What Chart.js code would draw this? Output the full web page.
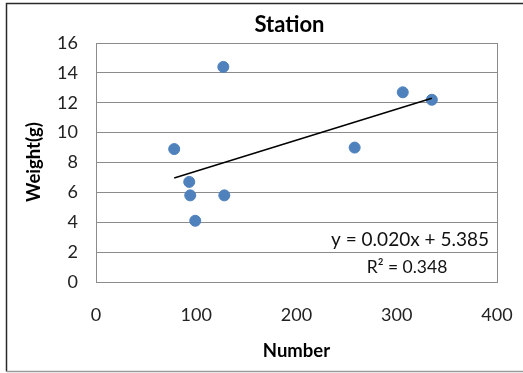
<!DOCTYPE html>
<html>
<head>
<meta charset="utf-8">
<script src="https://cdn.jsdelivr.net/npm/chart.js@4"></script>
<style>
html,body{margin:0;padding:0;background:#fff;}
#wrap{position:relative;width:523px;height:373px;}
</style>
</head>
<body>
<div id="wrap"><canvas id="c" width="523" height="373"></canvas></div>
<script>
// ---- data ----
const numbers = [78, 93, 94, 99, 127, 128, 258, 306, 335];
const weights = [8.9, 6.7, 5.8, 4.1, 14.4, 5.8, 9.0, 12.7, 12.2];
const xTicks = [0, 100, 200, 300, 400];
const yTicks = [0, 2, 4, 6, 8, 10, 12, 14, 16];
const chartTitle = 'Station';
const xTitle = 'Number';
const yTitle = 'Weight(g)';
const eqText = 'y = 0.020x + 5.385';
const r2Text = 'R² = 0.348';

// least-squares trendline from the data
const n = numbers.length;
const mx = numbers.reduce((a,b)=>a+b,0)/n;
const my = weights.reduce((a,b)=>a+b,0)/n;
let sxy=0,sxx=0;
for(let i=0;i<n;i++){sxy+=(numbers[i]-mx)*(weights[i]-my);sxx+=(numbers[i]-mx)**2;}
const slope = sxy/sxx, intercept = my - slope*mx;
const xMin = Math.min(...numbers), xMax = Math.max(...numbers);
const trend = [{x:xMin,y:intercept+slope*xMin},{x:xMax,y:intercept+slope*xMax}];

const FONT = 'Lato, "Open Sans", sans-serif';

const decor = {
  id:'decor',
  beforeDraw(chart){
    const ctx = chart.ctx;
    ctx.save();
    ctx.fillStyle='#fff';
    ctx.fillRect(0,0,chart.width,chart.height);
    ctx.lineWidth=1.5;
    ctx.strokeStyle='#2a2a2a';
    ctx.beginPath();
    ctx.moveTo(530,3.5);ctx.lineTo(6.5,3.5);ctx.lineTo(6.5,371.5);
    ctx.stroke();
    ctx.strokeStyle='#9a9a9a';
    ctx.beginPath();ctx.moveTo(6.5,371.5);ctx.lineTo(530,371.5);ctx.stroke();
    ctx.restore();
  },
  afterDatasetsDraw(chart){
    const ctx = chart.ctx;
    ctx.save();
    ctx.fillStyle='#000';
    ctx.textAlign='center';
    ctx.textBaseline='middle';
    ctx.font='bold 22px '+FONT;
    ctx.fillText(chartTitle, 289.5, 25);
    ctx.font='bold 18.5px '+FONT;
    ctx.fillText(xTitle, 296.5, 351);
    ctx.save();
    ctx.translate(34,162);
    ctx.rotate(-Math.PI/2);
    ctx.fillText(yTitle,0,0);
    ctx.restore();
    ctx.fillStyle='#111';
    ctx.font='19px '+FONT;
    ctx.fillText(eqText, 410, 240);
    ctx.font='17.5px '+FONT;
    ctx.fillText(r2Text, 407, 267);
    ctx.restore();
  }
};

new Chart(document.getElementById('c'),{
  type:'scatter',
  data:{
    datasets:[
      {
        label:'Weight',
        data:numbers.map((x,i)=>({x:x,y:weights[i]})),
        backgroundColor:'#4F81BD',
        borderColor:'#4F81BD',
        pointRadius:5.5,
        pointHoverRadius:5.5,
        order:2
      },
      {
        label:'Trend',
        type:'line',
        data:trend,
        borderColor:'#000',
        borderWidth:1.5,
        pointRadius:0,
        fill:false,
        order:1
      }
    ]
  },
  options:{
    responsive:false,
    animation:false,
    events:[],
    layout:{padding:{top:43,right:26,left:0,bottom:0}},
    plugins:{legend:{display:false},title:{display:false},tooltip:{enabled:false}},
    scales:{
      x:{
        type:'linear',min:0,max:400,
        afterBuildTicks(s){s.ticks=xTicks.map(v=>({value:v}));},
        afterFit(s){s.height=91;s.paddingLeft=0;s.paddingRight=0;},
        grid:{display:false,drawTicks:false},
        border:{display:true,color:'#8c8c8c',width:1},
        ticks:{padding:22,color:'#222',font:{family:FONT,size:18},maxRotation:0}
      },
      y:{
        type:'linear',min:0,max:16,
        afterBuildTicks(s){s.ticks=yTicks.map(v=>({value:v}));},
        afterFit(s){s.width=96;s.paddingTop=0;s.paddingBottom=0;},
        grid:{color:'#8c8c8c',lineWidth:1,drawTicks:false},
        border:{display:true,color:'#8c8c8c',width:1},
        ticks:{padding:18,color:'#222',font:{family:FONT,size:18}}
      }
    }
  },
  plugins:[decor,{
    id:'frame',
    beforeDatasetsDraw(chart){
      const a=chart.chartArea,ctx=chart.ctx;
      ctx.save();ctx.strokeStyle='#8c8c8c';ctx.lineWidth=1;
      ctx.strokeRect(Math.round(a.left)+0.5,Math.round(a.top)+0.5,Math.round(a.right-a.left),Math.round(a.bottom-a.top));
      ctx.restore();
    }
  }]
});
</script>
</body>
</html>
